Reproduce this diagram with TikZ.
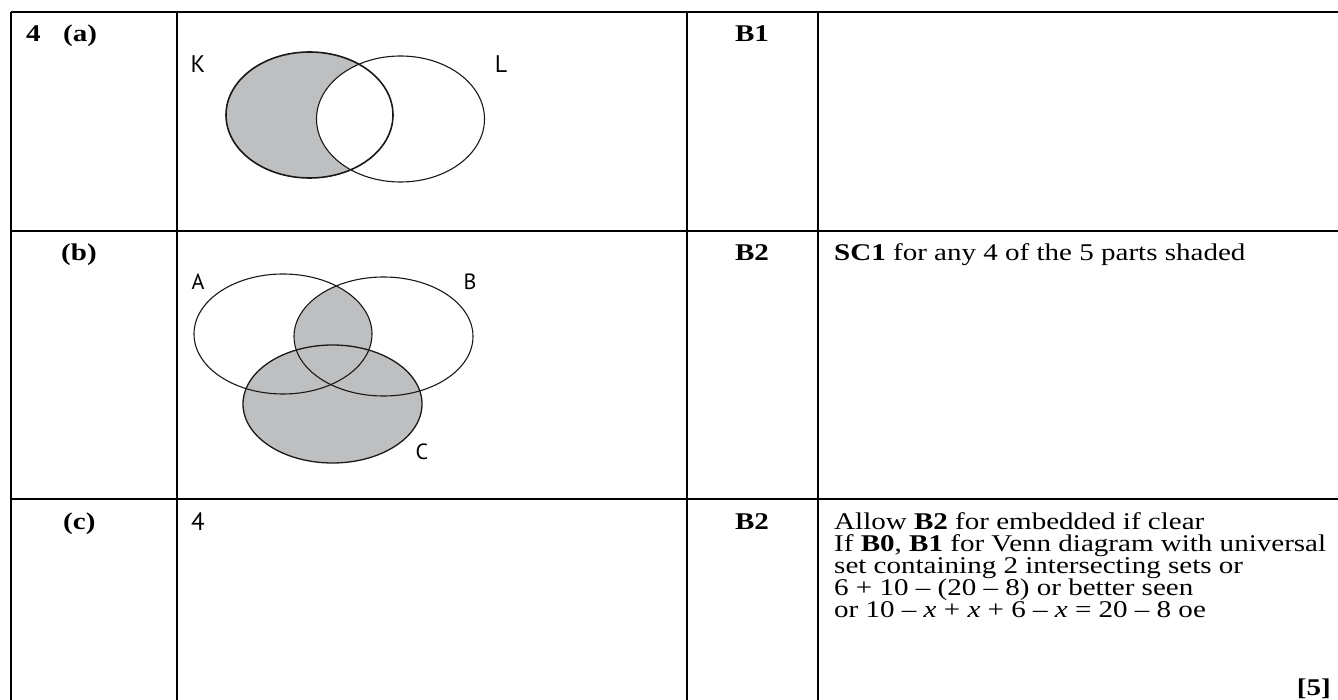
\documentclass[tikz,border=0pt]{standalone}
\usepackage{fontspec}
\setmainfont{Liberation Serif}[FakeStretch=1.21]
\newfontfamily\lblfont{PT Sans}
\usepackage{xcolor}
\definecolor{shadegray}{RGB}{190,191,193}
\definecolor{inkdark}{RGB}{25,25,25}
\usepackage{tikz}
\usetikzlibrary{positioning}
\newcommand\tightlines{\lineskiplimit=-50pt\relax\lineskip=0pt\relax}

\begin{document}
\begin{tikzpicture}[
  x=1pt, y=-1pt,
  cellrule/.style={line width=1.3pt, black},
  vennline/.style={line width=1.1pt, inkdark},
  hdr/.style={font=\fontsize{24}{26}\selectfont\bfseries, inner sep=0pt},
  note/.style={font=\fontsize{24}{22}\selectfont\tightlines, inner sep=0pt, align=left},
  setlbl/.style={font=\lblfont\fontsize{22}{22}\selectfont, inner sep=0pt}
]
\useasboundingbox (0,0) rectangle (1338,700);

% table rules
\draw[cellrule] (11,12) -- (1338,12);
\draw[cellrule] (11,231) -- (1338,231);
\draw[cellrule] (11,499) -- (1338,499);
\draw[cellrule] (11,12) -- (11,700);
\draw[cellrule] (177,12) -- (177,700);
\draw[cellrule] (687,12) -- (687,700);
\draw[cellrule] (818,12) -- (818,700);

% question column
\node[hdr, anchor=base west] (q4) at (26,42) {4};
\node[hdr, right=22pt of q4.base east, anchor=base west] (qa) {(a)};
\node[hdr, anchor=base west] (qb) at (61,261) {(b)};
\node[hdr, anchor=base west] (qc) at (63,529) {(c)};

% (a) K and L
\def\setK{(309.5,115) ellipse [x radius=83.5, y radius=63]}
\def\setL{(400.5,119) ellipse [x radius=84, y radius=63]}
\begin{scope}
  \clip \setK;
  \fill[shadegray] \setK;
  \fill[white] \setL;
\end{scope}
\draw[vennline, line width=1.6pt] \setK;
\draw[vennline] \setL;
\node[setlbl, font=\lblfont\fontsize{24}{24}\selectfont] (lblK) at (198,64) {K};
\node[setlbl, font=\lblfont\fontsize{24}{24}\selectfont] (lblL) at (501,64) {L};

% (b) A, B and C
\def\setA{(283,334) ellipse [x radius=89, y radius=60]}
\def\setB{(383.5,336.5) ellipse [x radius=89.5, y radius=59.5]}
\def\setC{(332.5,404) ellipse [x radius=89.5, y radius=59]}
\fill[shadegray] \setC;
\begin{scope}
  \clip \setA;
  \fill[shadegray] \setB;
\end{scope}
\draw[vennline] \setA;
\draw[vennline] \setB;
\draw[vennline, line width=1.3pt] \setC;
\node[setlbl] (lblA) at (198,282) {A};
\node[setlbl] (lblB) at (470,282) {B};
\node[setlbl] (lblC) at (422,452) {C};

% (c) answer
\node[setlbl, font=\lblfont\fontsize{25}{25}\selectfont, anchor=west] (ans) at (191,522) {4};

% marks column
\node[hdr, anchor=base] (m1) at (752,42) {B1};
\node[hdr, anchor=base] (m2) at (752,261) {B2};
\node[hdr, anchor=base] (m3) at (752,529) {B2};

% guidance column
\node[note, anchor=base west] (g2) at (834,261) {\textbf{SC1} for any 4 of the 5 parts shaded};
\node[note, anchor=north west] (g3) at (834,512.5) {Allow \textbf{B2} for embedded if clear\\
If \textbf{B0}, \textbf{B1} for Venn diagram with universal\\
set containing 2 intersecting sets or\\
6 + 10 -- (20 -- 8) or better seen\\
or 10 -- \textit{x} + \textit{x} + 6 -- \textit{x} = 20 -- 8 oe};
\node[hdr, anchor=base east] (total) at (1331,695) {[5]};
\end{tikzpicture}
\end{document}
